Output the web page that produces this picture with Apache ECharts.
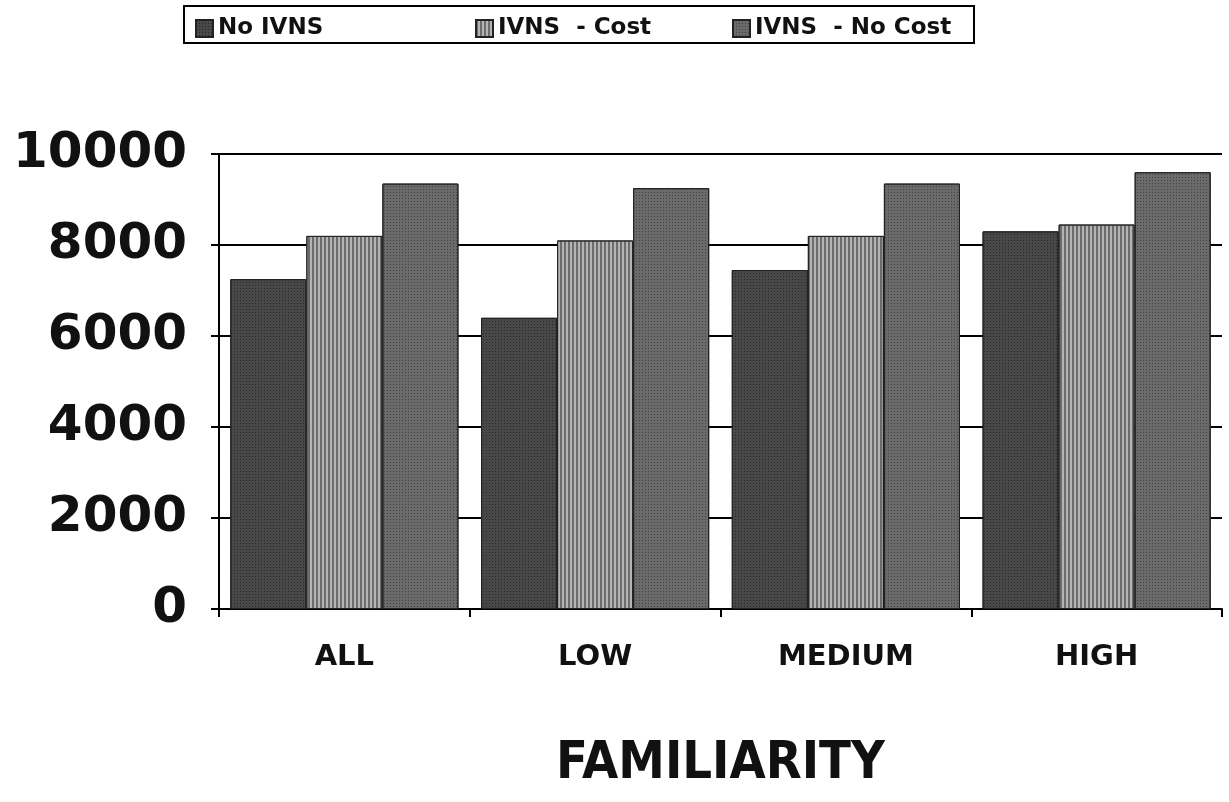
<!DOCTYPE html>
<html><head><meta charset="utf-8">
<script src="https://cdn.jsdelivr.net/npm/echarts@6/dist/echarts.min.js"></script>
<style>html,body{margin:0;padding:0;background:#fff}#c{width:1229px;height:802px}</style>
</head><body><div id="c"></div>
<script>
const categories = ['ALL', 'LOW', 'MEDIUM', 'HIGH'];
const noIVNS = [7250, 6400, 7450, 8300];
const ivnsCost = [8200, 8100, 8200, 8450];
const ivnsNoCost = [9350, 9250, 9350, 9600];
const yTicks = [0, 2000, 4000, 6000, 8000, 10000];
const seriesNames = ['No IVNS', 'IVNS  - Cost', 'IVNS  - No Cost'];

const FONT = '"DejaVu Sans", sans-serif';
const chart = echarts.init(document.getElementById('c'));
const styles = [
  {color: '#484848', decal: {symbol: 'rect', symbolSize: 1, dashArrayX: [1, 2], dashArrayY: [1, 2], color: 'rgba(10,10,10,0.5)'}},
  {color: '#b4b4b4', decal: {symbol: 'rect', symbolSize: 1, dashArrayX: [2, 2], dashArrayY: [10, 0], color: 'rgba(60,60,60,0.6)'}},
  {color: '#6a6a6a', decal: {symbol: 'rect', symbolSize: 1, dashArrayX: [1, 2], dashArrayY: [1, 2], color: 'rgba(30,30,30,0.5)'}}
];
const data = [noIVNS, ivnsCost, ivnsNoCost];
const legendLefts = [190, 470, 727];
chart.setOption({
  animation: false,
  backgroundColor: '#fff',
  graphic: [{type: 'rect', shape: {x: 184, y: 6, width: 790, height: 37}, style: {fill: 'none', stroke: '#000', lineWidth: 2}}],
  legend: seriesNames.map((n, i) => ({
    data: [{name: n, icon: 'rect'}], left: legendLefts[i], top: 12, itemWidth: 17, itemHeight: 17, itemGap: 8,
    textStyle: {fontFamily: FONT, fontWeight: 'bold', fontSize: 23, color: '#111'}
  })),
  grid: {left: 219, right: 7, top: 154, bottom: 193, containLabel: false, outerBoundsMode: 'none'},
  xAxis: {
    type: 'category', data: categories,
    axisLine: {lineStyle: {color: '#000', width: 2}},
    axisTick: {show: true, length: 8, lineStyle: {color: '#000', width: 2}, alignWithLabel: false},
    axisLabel: {fontFamily: FONT, fontWeight: 'bold', fontSize: 29, color: '#111', margin: 34},
    name: 'FAMILIARITY', nameLocation: 'middle', nameGap: 129,
    nameTextStyle: {fontFamily: '"Liberation Sans Narrow", "DejaVu Sans Condensed", sans-serif', fontWeight: 'bold', fontSize: 52, color: '#111'}
  },
  yAxis: {
    type: 'value', min: 0, max: 10000, interval: 2000,
    axisLine: {show: true, lineStyle: {color: '#000', width: 2}},
    axisTick: {show: true, length: 8, inside: false, lineStyle: {color: '#000', width: 2}},
    splitLine: {lineStyle: {color: '#000', width: 2}},
    axisLabel: {fontFamily: FONT, fontWeight: 'bold', fontSize: 50, color: '#111', margin: 32,
      formatter: v => yTicks.includes(v) ? String(v) : ''}
  },
  series: seriesNames.map((n, i) => ({
    name: n, type: 'bar', data: data[i], barGap: '0%', barCategoryGap: '9%',
    itemStyle: {color: styles[i].color, decal: styles[i].decal, borderColor: '#222', borderWidth: 1}
  }))
});
</script></body></html>
